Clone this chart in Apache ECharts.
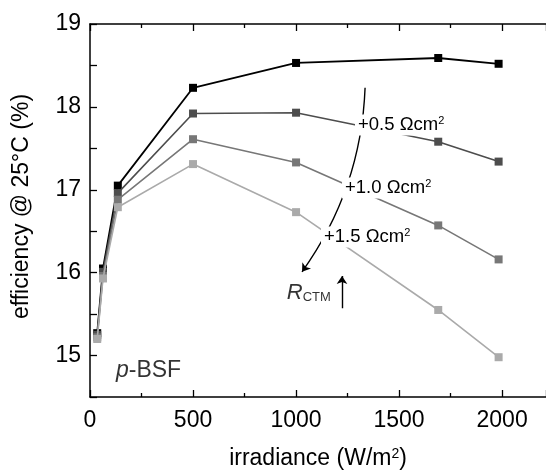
<!DOCTYPE html>
<html>
<head>
<meta charset="utf-8">
<script src="https://cdn.jsdelivr.net/npm/echarts@6/dist/echarts.min.js"></script>
<style>
  html, body { margin: 0; padding: 0; background: #fff; }
  #chart { width: 546px; height: 470px; }
</style>
</head>
<body>
<div id="chart"></div>
<script>
// Irradiance levels (W/m²)
const irradiance = [35, 63, 135, 500, 1000, 1690, 1983];
// Efficiency at 25 °C (%) for the base cell and with added contact resistance
const effBase = [15.27, 16.05, 17.05, 18.23, 18.53, 18.59, 18.52];
const eff05   = [15.25, 16.01, 16.96, 17.92, 17.93, 17.58, 17.34];
const eff10   = [15.22, 15.96, 16.88, 17.61, 17.33, 16.57, 16.16];
const eff15   = [15.20, 15.93, 16.79, 17.31, 16.73, 15.55, 14.98];

const xTicks = [0, 500, 1000, 1500, 2000];
const yTicks = [15, 16, 17, 18, 19];

// Resistance annotations: [x, y, text]
const resLabels = [
  [1510, 17.78, '+0.5 Ωcm{s|2}'],
  [1447, 17.02, '+1.0 Ωcm{s|2}'],
  [1345, 16.43, '+1.5 Ωcm{s|2}']
];
const arrowCurve = [[1335, 18.23], [1029, 16.01]];
const arrowUp = [[1223, 15.57], [1223, 15.96]];
const rctmPos = [955, 15.76];
const cellPos = [126, 14.82];

const FONT = 'Liberation Sans';
const colors = ['#000000', '#4d4d4d', '#777777', '#aaaaaa'];
const seriesData = [effBase, eff05, eff10, eff15];

function pairs(ys) { return irradiance.map((x, i) => [x, ys[i]]); }

const chart = echarts.init(document.getElementById('chart'));

const lineSeries = seriesData.map((ys, i) => ({
  type: 'line',
  data: pairs(ys),
  symbol: 'rect',
  symbolSize: 8,
  showAllSymbol: true,
  lineStyle: { color: colors[i], width: i === 0 ? 1.8 : 1.6 },
  itemStyle: { color: colors[i] },
  z: 2 + i
}));

const axisCommon = {
  type: 'value',
  axisLine: { lineStyle: { color: '#000', width: 1.5 } },
  splitLine: { show: false }
};

// invisible anchor points that carry text annotations
const hiddenMark = { symbol: 'circle', symbolSize: 1, itemStyle: { color: 'rgba(0,0,0,0)' } };

chart.setOption({
  animation: false,
  backgroundColor: '#fff',
  grid: { left: 90, top: 24, right: 0, bottom: 73, containLabel: false, outerBoundsMode: 'none' },
  xAxis: [
    Object.assign({}, axisCommon, {
      position: 'bottom',
      min: 0, max: 2213, interval: 500,
      axisTick: { inside: true, length: 7, lineStyle: { color: '#000', width: 1.3 } },
      minorTick: { show: true, splitNumber: 2, length: 4, lineStyle: { color: '#000', width: 1.3 } },
      axisLabel: {
        color: '#000', fontFamily: FONT, fontSize: 23, margin: 12,
        showMaxLabel: false,
        formatter: v => (xTicks.indexOf(v) >= 0 ? String(v) : '')
      },
      name: 'irradiance (W/m{s|2})',
      nameLocation: 'middle',
      nameGap: 50,
      nameTextStyle: {
        color: '#000', fontFamily: FONT, fontSize: 23,
        rich: { s: { fontSize: 14, verticalAlign: 'top', padding: [0, 0, 10, 0], fontFamily: FONT, color: '#000' } }
      }
    }),
    Object.assign({}, axisCommon, {
      position: 'top',
      min: 0, max: 2213, interval: 500,
      axisTick: { inside: true, length: 7, lineStyle: { color: '#000', width: 1.3 } },
      minorTick: { show: true, splitNumber: 2, length: 4, lineStyle: { color: '#000', width: 1.3 } },
      axisLabel: { show: false }
    })
  ],
  yAxis: [
    Object.assign({}, axisCommon, {
      min: 14.5, max: 19, interval: 0.5,
      axisTick: { inside: true, length: 7, lineStyle: { color: '#000', width: 1.3 } },
      axisLabel: {
        color: '#000', fontFamily: FONT, fontSize: 23, margin: 9,
        formatter: v => (yTicks.indexOf(v) >= 0 ? String(v) : '')
      },
      name: 'efficiency @ 25°C (%)',
      nameLocation: 'middle',
      nameRotate: 90,
      nameGap: 57,
      nameTextStyle: { color: '#000', fontFamily: FONT, fontSize: 23, padding: [0, 0, 0, 8] }
    })
  ],
  series: lineSeries.concat([
    {
      type: 'lines',
      coordinateSystem: 'cartesian2d',
      data: [{ coords: arrowCurve }],
      symbol: ['none', 'arrow'],
      symbolSize: 8,
      lineStyle: { color: '#000', width: 1.4, curveness: 0.15, opacity: 1 },
      z: 6
    },
    {
      type: 'lines',
      coordinateSystem: 'cartesian2d',
      data: [{ coords: arrowUp }],
      symbol: ['none', 'arrow'],
      symbolSize: 8,
      lineStyle: { color: '#000', width: 1.4, opacity: 1 },
      z: 6
    },
    Object.assign({
      type: 'scatter',
      data: [{ value: rctmPos }],
      z: 10,
      label: {
        show: true,
        position: 'inside',
        align: 'left',
        formatter: '{r|R}{c|CTM}',
        rich: {
          r: { fontFamily: FONT, fontSize: 22, fontStyle: 'italic', color: '#000' },
          c: { fontFamily: FONT, fontSize: 13, color: '#000', padding: [10, 0, 0, 0] }
        }
      }
    }, hiddenMark),
    Object.assign({
      type: 'scatter',
      data: [{ value: cellPos }],
      z: 10,
      label: {
        show: true,
        position: 'inside',
        align: 'left',
        formatter: '{i|p}{n|-BSF}',
        rich: {
          i: { fontFamily: FONT, fontSize: 23, fontStyle: 'italic', color: '#000' },
          n: { fontFamily: FONT, fontSize: 23, color: '#000' }
        }
      }
    }, hiddenMark)
  ])
});

// Resistance labels sit on white boxes that break the curves beneath them
chart.setOption({
  graphic: resLabels.map(d => {
    const p = chart.convertToPixel({ gridIndex: 0 }, [d[0], d[1]]);
    return {
      type: 'text',
      x: p[0],
      y: p[1],
      z: 100,
      style: {
        text: d[2],
        align: 'center',
        verticalAlign: 'middle',
        fontFamily: FONT,
        fontSize: 18.5,
        fill: '#000',
        backgroundColor: '#fff',
        padding: [1, 3, 1, 3],
        rich: {
          s: { fontFamily: FONT, fontSize: 11, fill: '#000', verticalAlign: 'top', padding: [0, 0, 8, 0] }
        }
      }
    };
  })
});
</script>
</body>
</html>
